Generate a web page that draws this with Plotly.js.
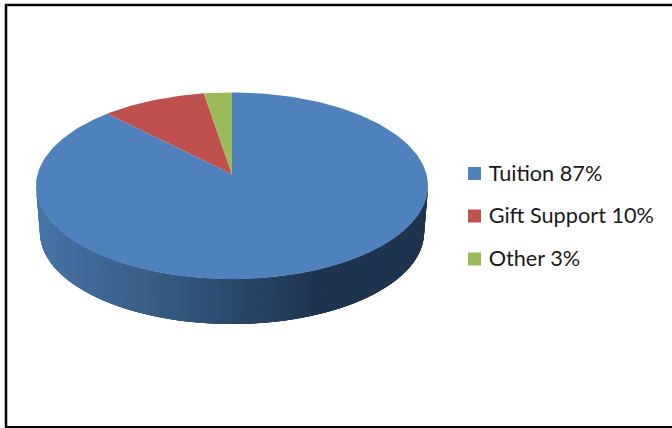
<!DOCTYPE html>
<html><head><meta charset="utf-8">
<script src="https://cdn.plot.ly/plotly-3.0.1.min.js"></script>
<style>html,body{margin:0;padding:0;background:#fff}#c{width:672px;height:428px}</style>
</head><body><div id="c"></div>
<script>
const categories = ["Tuition", "Gift Support", "Other"];
const labelPercents = [87, 10, 3];
const sliceShares = [87.7, 9.7, 2.6];
const sliceColors = ["#4F81BD", "#BE504D", "#9BBB59"];
const wallStops = [[-1,"#4675A6"],[-0.8,"#416C9B"],[-0.5,"#3A6089"],[-0.2,"#305379"],[0,"#2A486B"],[0.25,"#243D5C"],[0.4,"#1F344F"],[1,"#1F344F"]];

const W = 672, H = 428, cx = 232, cy = 185.8, rx = 196, ry = 93.4;
const tilt = 0.124, depth = 0.5, shrink = 0.98;

function hex(c){return [1,3,5].map(i=>parseInt(c.substr(i,2),16));}
function wallColor(u){
  for(let i=1;i<wallStops.length;i++){
    if(u<=wallStops[i][0]){
      const a=wallStops[i-1],b=wallStops[i],f=(u-a[0])/(b[0]-a[0]);
      const A=hex(a[1]),B=hex(b[1]);
      return "rgb("+A.map((v,j)=>Math.round(v+(B[j]-v)*f)).join(",")+")";
    }
  }
  return wallStops[wallStops.length-1][1];
}
function project(theta){
  const X=Math.sin(theta),Y=Math.cos(theta),d=1+tilt*Y;
  return [X*Math.sqrt(1-tilt*tilt)/d,(Y+tilt)/d];
}
const traces=[];
// side wall
const N=150;
for(let i=0;i<N;i++){
  const a=Math.PI*(1+i/N),b=Math.min(2*Math.PI,Math.PI*(1+(i+4)/N));
  const ca=Math.cos(a),sa=Math.sin(a),cb=Math.cos(b),sb=Math.sin(b);
  traces.push({type:"scatter",mode:"lines",fill:"toself",fillcolor:wallColor(ca),line:{width:0},hoverinfo:"skip",showlegend:false,
    x:[ca,cb,shrink*cb,shrink*ca,ca],y:[sa,sb,-depth+shrink*sb,-depth+shrink*sa,sa]});
}
// top slices
let cum=0;
const total=sliceShares.reduce((p,v)=>p+v,0);
sliceShares.forEach((v,i)=>{
  const xs=[0],ys=[tilt],n=Math.max(6,Math.round(v*3));
  for(let j=0;j<=n;j++){
    const p=project(2*Math.PI*(cum+v*j/n)/total);
    xs.push(p[0]);ys.push(p[1]);
  }
  xs.push(xs[0]);ys.push(ys[0]);
  traces.push({type:"scatter",mode:"lines",fill:"toself",fillcolor:sliceColors[i],line:{width:0},hoverinfo:"skip",showlegend:false,name:categories[i],x:xs,y:ys});
  cum+=v;
});
// legend key: swatch, then text
const keyX=(474.5-cx)/rx, textX=(479.5-cx)/rx, keyPx=[173.5,216,259];
categories.forEach((c,i)=>{
  traces.push({type:"scatter",mode:"markers",x:[keyX],y:[(cy-keyPx[i])/ry],
    marker:{symbol:"square",size:13,color:sliceColors[i]},hoverinfo:"skip",showlegend:false,cliponaxis:false});
  traces.push({type:"scatter",mode:"markers+text",x:[textX],y:[(cy-keyPx[i]-1.6)/ry],
    marker:{symbol:"square",size:13,color:"rgba(0,0,0,0)"},
    text:[c+" "+labelPercents[i]+"%"],textposition:"middle right",
    textfont:{family:"Lato, Carlito, sans-serif",size:21.7,color:"#1a1a1a"},
    hoverinfo:"skip",showlegend:false,cliponaxis:false});
});
const layout={width:W,height:H,margin:{l:0,r:0,t:0,b:0},paper_bgcolor:"#fff",plot_bgcolor:"#fff",showlegend:false,
  xaxis:{visible:false,range:[-cx/rx,(W-cx)/rx],fixedrange:true},
  yaxis:{visible:false,range:[(cy-H)/ry,cy/ry],fixedrange:true},
  shapes:[
    {type:"line",xref:"paper",yref:"paper",x0:6/W,x1:6/W,y0:0,y1:1-4/H,line:{color:"#000",width:2.5}},
    {type:"line",xref:"paper",yref:"paper",x0:5/W,x1:1,y0:1-5/H,y1:1-5/H,line:{color:"#000",width:2.5}},
    {type:"line",xref:"paper",yref:"paper",x0:5/W,x1:1,y0:1-427/H,y1:1-427/H,line:{color:"#000",width:2}}
  ]};
Plotly.newPlot("c",traces,layout,{staticPlot:true,displayModeBar:false});
</script></body></html>
